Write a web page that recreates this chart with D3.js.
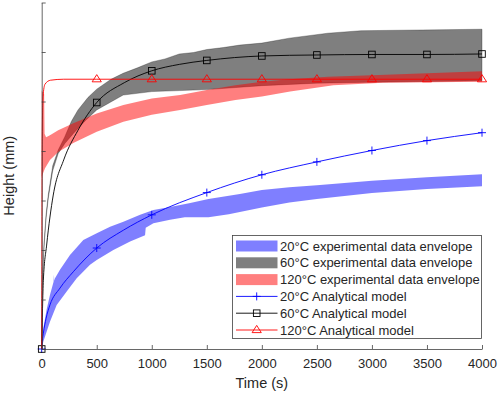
<!DOCTYPE html>
<html>
<head>
<meta charset="utf-8">
<script src="https://cdn.jsdelivr.net/npm/d3@7"></script>
<style>
  body { margin: 0; background: #fff; }
  text { font-family: "Liberation Sans", Arial, sans-serif; fill: #262626; }
</style>
</head>
<body>
<div id="chart"></div>
<script>
// Data: [time (s), height]
const xTicks = [0, 500, 1000, 1500, 2000, 2500, 3000, 3500, 4000];
const yTicks = [0, 1, 2, 3, 4, 5, 6, 7];
const markerTimes = [0, 500, 1000, 1500, 2000, 2500, 3000, 3500, 4000];

const band20Upper = [[0,0],[15,0.42],[45,0.8],[75,1.09],[108,1.36],[111,1.5],[114,1.38],[121,1.43],[166,1.6],[257,1.9],[378,2.2],[500,2.34],[621,2.47],[742,2.57],[894,2.71],[1015,2.81],[1166,2.87],[1350,2.95],[1515,3.03],[1800,3.13],[2000,3.21],[2250,3.27],[2500,3.31],[3000,3.4],[3500,3.47],[4000,3.53]];
const band20Lower = [[0,0],[15,0.15],[75,0.55],[136,0.89],[227,1.16],[318,1.43],[439,1.7],[500,1.8],[651,2.0],[803,2.17],[939,2.3],[945,2.45],[1015,2.54],[1166,2.61],[1300,2.66],[1515,2.66],[1700,2.72],[2000,2.86],[2250,2.96],[2500,3.03],[3000,3.15],[3500,3.23],[4000,3.29]];

const band60Upper = [[0,0],[7,1.42],[21,2.12],[40,2.72],[60,3.12],[100,3.7],[150,4.02],[210,4.29],[270,4.6],[330,4.83],[420,5.08],[500,5.25],[630,5.45],[740,5.57],[870,5.68],[1000,5.8],[1120,5.86],[1250,5.96],[1380,5.99],[1500,6.05],[1650,6.09],[1800,6.14],[2000,6.18],[2250,6.28],[2600,6.38],[2900,6.43],[4000,6.46]];
const band60Lower = [[0,0],[7,1.38],[21,2.05],[40,2.65],[60,3.05],[100,3.6],[150,3.95],[210,4.15],[290,4.36],[400,4.62],[500,4.83],[740,5.13],[1000,5.2],[1250,5.22],[1500,5.24],[2000,5.32],[2500,5.37],[3000,5.39],[4000,5.42]];

const band120Upper = [[0,5.22],[22,5.15],[26,4.35],[40,4.28],[75,4.32],[150,4.42],[287,4.56],[500,4.76],[742,4.93],[1000,5.06],[1257,5.13],[1500,5.23],[1760,5.33],[2000,5.4],[2250,5.45],[2600,5.5],[3000,5.53],[3500,5.57],[4000,5.61]];
const band120Lower = [[0,3.48],[30,3.65],[75,3.82],[150,3.98],[287,4.16],[500,4.39],[742,4.59],[1000,4.73],[1257,4.83],[1500,4.93],[1760,5.03],[2000,5.1],[2257,5.2],[2650,5.33],[3100,5.38],[4000,5.4]];

const model20 = [[0,0],[5,0.15],[15,0.32],[40,0.62],[75,0.89],[166,1.23],[287,1.56],[500,2.04],[742,2.4],[1000,2.71],[1500,3.16],[2000,3.52],[2500,3.78],[3000,4.01],[3500,4.21],[4000,4.37]];
const model60 = [[0,0],[15,1.39],[45,2.1],[105,3.11],[200,3.82],[330,4.42],[500,4.98],[750,5.38],[1000,5.62],[1250,5.75],[1500,5.83],[2000,5.92],[2500,5.94],[3000,5.95],[3500,5.95],[4000,5.96]];
const model120 = [[0,0],[2,2.5],[5,4.3],[12,5.1],[30,5.35],[80,5.43],[200,5.45],[500,5.45],[1000,5.45],[1500,5.45],[2000,5.45],[2500,5.45],[3000,5.45],[3500,5.45],[4000,5.45]];

const legendLabels = [
  "20°C experimental data envelope",
  "60°C experimental data envelope",
  "120°C experimental data envelope",
  "20°C Analytical model",
  "60°C Analytical model",
  "120°C Analytical model"
];

const width = 498;
const height = 394;
const margin = { top: 2.5, left: 41.7 };
const chartWidth = 482 - margin.left;
const chartHeight = 349 - margin.top;
const axisColor = "#404040";

const svg = d3.select("#chart")
  .append("svg")
  .attr("width", width)
  .attr("height", height);

const chart = svg.append("g")
  .attr("transform", `translate(${margin.left}, ${margin.top})`);

const xScale = d3.scaleLinear().domain([0, 4000]).range([0, chartWidth]);
const yScale = d3.scaleLinear().domain([0, 7]).range([chartHeight, 0]);

const line = d3.line()
  .x(d => xScale(d[0]))
  .y(d => yScale(d[1]));

const smoothLine = d3.line()
  .x(d => xScale(d[0]))
  .y(d => yScale(d[1]))
  .curve(d3.curveMonotoneX);

// envelopes: upper edge forward, lower edge back
function envelope(upper, lower, color, edge) {
  chart.append("path")
    .attr("d", line(upper.concat(lower.slice().reverse())) + "Z")
    .attr("fill", color)
    .attr("fill-opacity", 0.5)
    .attr("stroke", edge ? "#000" : "none")
    .attr("stroke-opacity", 0.45)
    .attr("stroke-width", 0.6);
}
envelope(band20Upper, band20Lower, "#0000ff", false);
envelope(band60Upper, band60Lower, "#000000", true);
envelope(band120Upper, band120Lower, "#ff0000", false);

// model curves
const models = [
  { data: model20, color: "#0000ff", marker: "plus", from: 0 },
  { data: model60, color: "#000000", marker: "square", from: 0 },
  { data: model120, color: "#ff0000", marker: "triangle", from: 500 }
];

function drawMarker(g, type, x, y, color) {
  if (type === "plus") {
    g.append("path")
      .attr("d", `M${x - 4},${y}H${x + 4}M${x},${y - 4}V${y + 4}`)
      .attr("stroke", color).attr("stroke-width", 0.9).attr("fill", "none");
  } else if (type === "square") {
    g.append("rect")
      .attr("x", x - 3.3).attr("y", y - 3.3)
      .attr("width", 6.6).attr("height", 6.6)
      .attr("stroke", color).attr("stroke-width", 0.9).attr("fill", "none");
  } else {
    g.append("path")
      .attr("d", `M${x},${y - 4.6}L${x + 4.6},${y + 2.6}L${x - 4.6},${y + 2.6}Z`)
      .attr("stroke", color).attr("stroke-width", 0.9).attr("fill", "none");
  }
}

models.forEach(m => {
  chart.append("path")
    .datum(m.data)
    .attr("fill", "none")
    .attr("stroke", m.color)
    .attr("stroke-width", 0.9)
    .attr("d", smoothLine);
  markerTimes.filter(t => t >= m.from).forEach(t => {
    const p = m.data.find(d => d[0] === t);
    drawMarker(chart, m.marker, xScale(p[0]), yScale(p[1]), m.color);
  });
});

// axes (ticks inward, no y labels)
const xAxis = d3.axisBottom(xScale).tickValues(xTicks).tickFormat(d3.format("d"))
  .tickSizeInner(-4).tickSizeOuter(0).tickPadding(10);
const yAxis = d3.axisLeft(yScale).tickValues(yTicks).tickSizeInner(-4).tickSizeOuter(0).tickFormat("");

const gx = chart.append("g")
  .attr("transform", `translate(0, ${chartHeight})`)
  .call(xAxis);
gx.selectAll("text").style("font-size", "13px").attr("fill", "#262626");

const gy = chart.append("g").call(yAxis);

[gx, gy].forEach(g => {
  g.select(".domain").attr("stroke", axisColor).attr("stroke-width", 0.8);
  g.selectAll(".tick line").attr("stroke", axisColor).attr("stroke-width", 0.8);
});

// axis labels
svg.append("text")
  .attr("x", margin.left + chartWidth / 2)
  .attr("y", 388)
  .attr("text-anchor", "middle")
  .style("font-size", "14.5px")
  .text("Time (s)");

svg.append("text")
  .attr("transform", `translate(14, ${margin.top + chartHeight / 2}) rotate(-90)`)
  .attr("text-anchor", "middle")
  .style("font-size", "14.5px")
  .text("Height (mm)");

// legend
const legend = svg.append("g");
legend.append("rect")
  .attr("x", 232.5).attr("y", 235.5)
  .attr("width", 249).attr("height", 103)
  .attr("fill", "#fff")
  .attr("stroke", "#404040")
  .attr("stroke-width", 0.8);

const legendColors = ["#0000ff", "#000000", "#ff0000"];
legendLabels.forEach((label, i) => {
  const cy = 246 + i * 16.8;
  if (i < 3) {
    legend.append("rect")
      .attr("x", 236).attr("y", cy - 5.5)
      .attr("width", 41.5).attr("height", 11)
      .attr("fill", legendColors[i]).attr("fill-opacity", 0.5);
  } else {
    const m = models[i - 3];
    legend.append("line")
      .attr("x1", 236).attr("x2", 277.5)
      .attr("y1", cy).attr("y2", cy)
      .attr("stroke", m.color).attr("stroke-width", 0.9);
    drawMarker(legend, m.marker, 256.7, cy, m.color);
  }
  legend.append("text")
    .attr("x", 280)
    .attr("y", cy)
    .attr("dy", "0.36em")
    .style("font-size", "13px")
    .text(label);
});
</script>
</body>
</html>
